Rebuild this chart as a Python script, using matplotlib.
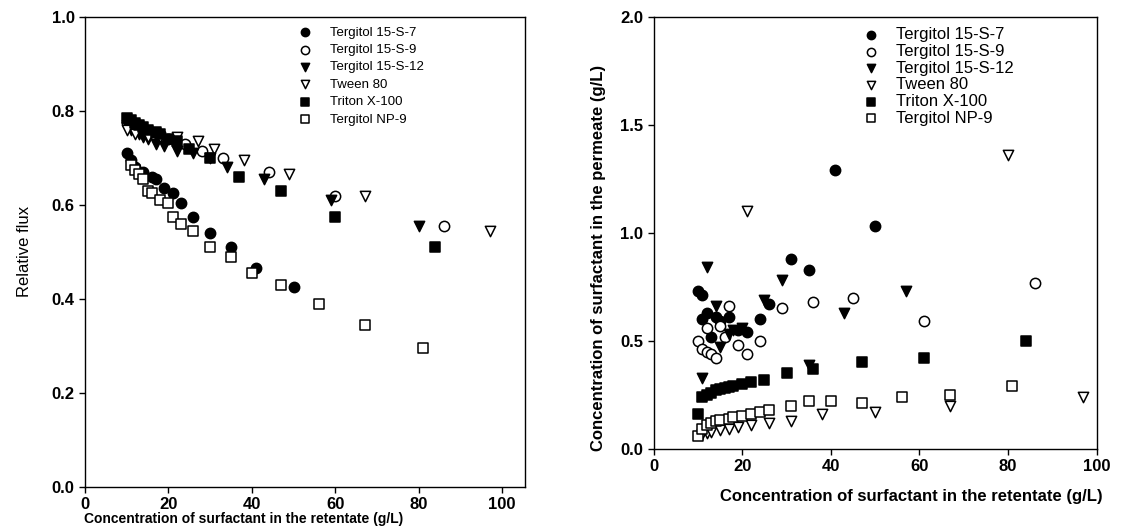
import numpy as np
import matplotlib.pyplot as plt

# ==================== 数据 ====================

labels = ['Tergitol 15-S-7', 'Tergitol 15-S-9', 'Tergitol 15-S-12',
          'Tween 80', 'Triton X-100', 'Tergitol NP-9']

# 左图: 相对通量
flux_s7_x = [10, 11, 12, 14, 16, 17, 19, 21, 23, 26, 30, 35, 41, 50]
flux_s7_y = [0.71, 0.695, 0.68, 0.67, 0.66, 0.655, 0.635, 0.625, 0.605, 0.575, 0.54, 0.51, 0.465, 0.425]

flux_s9_x = [10, 12, 14, 16, 18, 20, 24, 28, 33, 44, 60, 86]
flux_s9_y = [0.775, 0.77, 0.76, 0.755, 0.75, 0.74, 0.73, 0.715, 0.70, 0.67, 0.62, 0.555]

flux_s12_x = [10, 11, 12, 13, 14, 15, 17, 19, 22, 26, 30, 34, 43, 59, 80]
flux_s12_y = [0.77, 0.76, 0.755, 0.75, 0.745, 0.74, 0.73, 0.725, 0.715, 0.71, 0.70, 0.68, 0.655, 0.61, 0.555]

flux_tw_x = [10, 12, 15, 18, 22, 27, 31, 38, 49, 67, 97]
flux_tw_y = [0.76, 0.75, 0.745, 0.745, 0.745, 0.735, 0.72, 0.695, 0.665, 0.62, 0.545]

flux_tx_x = [10, 11, 12, 13, 14, 15, 17, 18, 20, 22, 25, 30, 37, 47, 60, 84]
flux_tx_y = [0.785, 0.78, 0.775, 0.77, 0.765, 0.76, 0.755, 0.75, 0.74, 0.735, 0.72, 0.70, 0.66, 0.63, 0.575, 0.51]

flux_np_x = [11, 12, 13, 14, 15, 16, 18, 20, 21, 23, 26, 30, 35, 40, 47, 56, 67, 81]
flux_np_y = [0.685, 0.675, 0.665, 0.655, 0.63, 0.625, 0.61, 0.605, 0.575, 0.56, 0.545, 0.51, 0.49, 0.455, 0.43, 0.39, 0.345, 0.295]

# 右图: 透过液中表面活性剂浓度
perm_s7_x = [10, 11, 11, 12, 13, 14, 15, 17, 19, 21, 24, 26, 31, 35, 41, 50]
perm_s7_y = [0.73, 0.71, 0.60, 0.63, 0.52, 0.61, 0.59, 0.61, 0.55, 0.54, 0.60, 0.67, 0.88, 0.83, 1.29, 1.03]

perm_s9_x = [10, 11, 12, 12, 13, 14, 15, 16, 17, 19, 21, 24, 29, 36, 45, 61, 86]
perm_s9_y = [0.50, 0.46, 0.45, 0.56, 0.44, 0.42, 0.57, 0.52, 0.66, 0.48, 0.44, 0.50, 0.65, 0.68, 0.70, 0.59, 0.77]

perm_s12_x = [11, 12, 14, 15, 17, 18, 20, 25, 29, 35, 43, 57]
perm_s12_y = [0.33, 0.84, 0.66, 0.47, 0.53, 0.55, 0.56, 0.69, 0.78, 0.39, 0.63, 0.73]

perm_tw_x = [11, 12, 13, 15, 17, 19, 21, 22, 26, 31, 38, 50, 67, 80, 97]
perm_tw_y = [0.07, 0.075, 0.08, 0.085, 0.09, 0.10, 1.10, 0.11, 0.12, 0.13, 0.16, 0.17, 0.20, 1.36, 0.24]

perm_tx_x = [10, 11, 12, 13, 14, 15, 16, 17, 18, 20, 22, 25, 30, 36, 47, 61, 84]
perm_tx_y = [0.16, 0.24, 0.25, 0.26, 0.27, 0.275, 0.28, 0.285, 0.29, 0.30, 0.31, 0.32, 0.35, 0.37, 0.40, 0.42, 0.50]

perm_np_x = [10, 11, 12, 13, 14, 15, 17, 18, 20, 22, 24, 26, 31, 35, 40, 47, 56, 67, 81]
perm_np_y = [0.06, 0.09, 0.11, 0.12, 0.13, 0.135, 0.14, 0.145, 0.15, 0.16, 0.17, 0.18, 0.20, 0.22, 0.22, 0.21, 0.24, 0.25, 0.29]

# ==================== 样式 ====================

styles = [
    dict(marker='o', facecolor='black', edgecolor='black'),
    dict(marker='o', facecolor='white', edgecolor='black'),
    dict(marker='v', facecolor='black', edgecolor='black'),
    dict(marker='v', facecolor='white', edgecolor='black'),
    dict(marker='s', facecolor='black', edgecolor='black'),
    dict(marker='s', facecolor='white', edgecolor='black'),
]

plt.rcParams['font.family'] = ['Liberation Sans', 'DejaVu Sans']

fig = plt.figure(figsize=(11.27, 5.28), dpi=100)
ax1 = fig.add_axes([0.0754, 0.0777, 0.3906, 0.8903])
ax2 = fig.add_axes([0.580, 0.150, 0.393, 0.818])


def draw(ax, series, legend_x, legend_fs, legend_sp, text_pad):
    for (x, y), lab, st in zip(series, labels, styles):
        ax.scatter(x, y, s=55, marker=st['marker'], facecolors=st['facecolor'],
                   edgecolors=st['edgecolor'], linewidths=1.1, label=lab, zorder=3)
    ax.legend(loc='upper left', bbox_to_anchor=(legend_x, 0.991), frameon=False,
              fontsize=legend_fs, handletextpad=text_pad, handlelength=2.0,
              labelspacing=legend_sp, borderaxespad=0, scatterpoints=1,
              markerscale=0.8)
    ax.tick_params(direction='out', length=4, width=1, labelsize=12)
    for t in ax.get_xticklabels() + ax.get_yticklabels():
        t.set_fontweight('bold')
    for sp in ax.spines.values():
        sp.set_linewidth(1.0)


draw(ax1, [(flux_s7_x, flux_s7_y), (flux_s9_x, flux_s9_y), (flux_s12_x, flux_s12_y),
           (flux_tw_x, flux_tw_y), (flux_tx_x, flux_tx_y), (flux_np_x, flux_np_y)],
     0.457, 9.5, 0.39, 0.9)
ax1.set_xlim(0, 105.5)
ax1.set_ylim(0, 1.0)
ax1.set_xticks([0, 20, 40, 60, 80, 100])
ax1.set_yticks([0.0, 0.2, 0.4, 0.6, 0.8, 1.0])
ax1.set_yticklabels(['0.0', '0.2', '0.4', '0.6', '0.8', '1.0'], fontweight='bold')
ax1.set_ylabel('Relative flux', fontsize=12, labelpad=14)
fig.text(0.216, 0.017, 'Concentration of surfactant in the retentate (g/L)',
         ha='center', va='center', fontsize=10, fontweight='bold')

draw(ax2, [(perm_s7_x, perm_s7_y), (perm_s9_x, perm_s9_y), (perm_s12_x, perm_s12_y),
           (perm_tw_x, perm_tw_y), (perm_tx_x, perm_tx_y), (perm_np_x, perm_np_y)],
     0.437, 12, 0.1, 0.5)
ax2.set_xlim(0, 100)
ax2.set_ylim(0, 2.0)
ax2.set_xticks([0, 20, 40, 60, 80, 100])
ax2.set_yticks([0.0, 0.5, 1.0, 1.5, 2.0])
ax2.set_yticklabels(['0.0', '0.5', '1.0', '1.5', '2.0'], fontweight='bold')
fig.text(0.531, 0.511, 'Concentration of surfactant in the permeate (g/L)',
         rotation=90, ha='center', va='center', fontsize=12, fontweight='bold')
fig.text(0.809, 0.059, 'Concentration of surfactant in the retentate (g/L)',
         ha='center', va='center', fontsize=12, fontweight='bold')

plt.savefig('out.png', dpi=100)
